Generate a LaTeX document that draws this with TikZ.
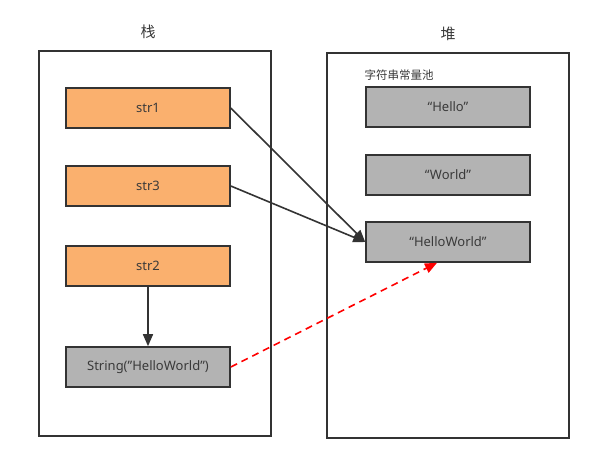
\documentclass[tikz,border=0pt]{standalone}
\usepackage{fontspec}
\setmainfont{Noto Sans}
\newfontfamily\cjk{Noto Sans CJK SC}
\usetikzlibrary{arrows.meta}
\definecolor{txt}{HTML}{3A3A3A}
\definecolor{orangefill}{HTML}{FAB06E}
\definecolor{grayfill}{HTML}{B3B3B3}
\definecolor{edge}{HTML}{333333}
\begin{document}
\begin{tikzpicture}[x=1pt,y=-1pt,
  outer/.style={draw=edge,line width=1.6pt,fill=white},
  varbox/.style={draw=edge,line width=1.6pt,fill=orangefill,minimum width=164pt,minimum height=40pt,inner sep=0pt,text=txt,font=\fontsize{13}{15}\selectfont},
  objbox/.style={draw=edge,line width=1.6pt,fill=grayfill,minimum width=164pt,minimum height=40pt,inner sep=0pt,text=txt,font=\fontsize{13}{15}\selectfont},
  title/.style={text=txt,font=\cjk\fontsize{15}{18}\selectfont},
  ref/.style={draw=edge,line width=1.6pt,-{Triangle[length=12pt,width=10pt]}},
  dref/.style={draw=red,line width=1.6pt,dashed,dash pattern=on 7pt off 5pt,-{Triangle[length=12pt,width=10pt]}}]
\useasboundingbox (0,0) rectangle (614,471);
\fill[white] (0,0) rectangle (614,471);
\node[title] (stacktitle) at (148,32) {栈};
\node[title] (heaptitle) at (448,34) {堆};
\draw[outer] (39,51) rectangle (271,436);
\draw[outer] (327,53) rectangle (569,438);
\node[text=txt,font=\cjk\fontsize{11.5}{13}\selectfont,anchor=west] (pool) at (361,75) {字符串常量池};
\node[varbox] (str1) at (148,108) {str1};
\node[varbox] (str3) at (148,186) {str3};
\node[varbox] (str2) at (148,266) {str2};
\node[objbox] (strobj) at (148,367) {String("HelloWorld")};
\node[objbox] (hello) at (448,107) {“Hello”};
\node[objbox] (world) at (448,175) {“World”};
\node[objbox] (hw) at (448,242) {“HelloWorld”};
\draw[ref] (str1.east) -- (hw.west);
\draw[ref] (str3.east) -- (hw.west);
\draw[ref] (str2.south) -- (strobj.north);
\draw[dref] (strobj.east) -- ([xshift=-11pt]hw.south);
\end{tikzpicture}
\end{document}
